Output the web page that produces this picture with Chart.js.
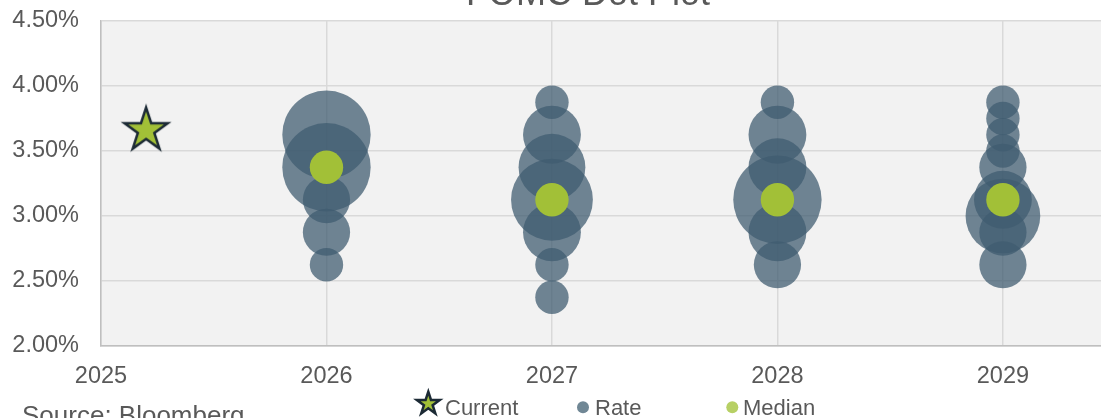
<!DOCTYPE html>
<html>
<head>
<meta charset="utf-8">
<script src="https://cdn.jsdelivr.net/npm/chart.js@4.4.1/dist/chart.umd.min.js"></script>
<style>
  html, body { margin: 0; padding: 0; background: #fff; overflow: hidden; }
  #wrap { position: relative; width: 1101px; height: 418px; }
</style>
</head>
<body>
<div id="wrap"><canvas id="dotChart" width="1101" height="418"></canvas></div>
<script>
// rate level of each dot group and how many participants sit at that level
const years = [2026, 2027, 2028, 2029];
const rates2026 = [3.625, 3.375, 3.125, 2.875, 2.625];
const counts2026 = [7, 7, 2, 2, 1];
const rates2027 = [3.875, 3.625, 3.375, 3.125, 2.875, 2.625, 2.375];
const counts2027 = [1, 3, 4, 6, 3, 1, 1];
const rates2028 = [3.875, 3.625, 3.375, 3.125, 2.875, 2.625];
const counts2028 = [1, 3, 3, 7, 3, 2];
const rates2029 = [3.875, 3.75, 3.625, 3.5, 3.375, 3.125, 3.0, 2.875, 2.625];
const counts2029 = [1, 1, 1, 1, 2, 3, 5, 2, 2];
const medians = [3.375, 3.125, 3.125, 3.125];
const currentDate = 2025.2;
const currentRate = 3.66;
const legendLabels = ['Current', 'Rate', 'Median'];

const FONT = '"Liberation Sans", Arial, sans-serif';
const GREY_TEXT = '#595959';
const RATE_COLOR = 'rgba(64, 92, 112, 0.74)';
const MEDIAN_COLOR = '#A2C037';

// one dot = radius 16.7px, area grows with the count
function dotRadius(n) {
    return 16.7 * Math.sqrt(n);
}

function starPath(ctx, cx, cy, R, r) {
    ctx.beginPath();
    for (let i = 0; i < 10; i++) {
        const rad = i % 2 === 0 ? R : r;
        const a = -Math.PI / 2 + i * Math.PI / 5;
        const x = cx + rad * Math.cos(a);
        const y = cy + rad * Math.sin(a);
        if (i === 0) ctx.moveTo(x, y); else ctx.lineTo(x, y);
    }
    ctx.closePath();
}

function makeStar(R) {
    const c = document.createElement('canvas');
    const size = Math.ceil(2 * R + 8);
    c.width = size;
    c.height = size;
    const ctx = c.getContext('2d');
    starPath(ctx, size / 2, size / 2, R, R * 0.382);
    ctx.fillStyle = MEDIAN_COLOR;
    ctx.fill();
    ctx.lineWidth = 2.5;
    ctx.strokeStyle = '#1C2A35';
    ctx.stroke();
    return c;
}

const rateGroups = [
    [rates2026, counts2026],
    [rates2027, counts2027],
    [rates2028, counts2028],
    [rates2029, counts2029]
];
const ratePoints = [];
rateGroups.forEach(([rates, counts], i) => {
    rates.forEach((v, j) => ratePoints.push({ x: years[i], y: v, r: dotRadius(counts[j]) }));
});
const medianPoints = medians.map((v, i) => ({ x: years[i], y: v, r: dotRadius(1) }));

const plotBg = {
    id: 'plotBg',
    beforeDraw(chart) {
        const { ctx, chartArea: a } = chart;
        ctx.save();
        ctx.fillStyle = '#F2F2F2';
        ctx.fillRect(a.left, a.top, a.right - a.left, a.bottom - a.top);
        ctx.restore();
    }
};

const overlay = {
    id: 'overlay',
    afterDraw(chart) {
        const ctx = chart.ctx;
        ctx.save();
        ctx.fillStyle = GREY_TEXT;
        ctx.textBaseline = 'alphabetic';

        // title, top half is cut off in the original
        ctx.font = '36px ' + FONT;
        ctx.textAlign = 'center';
        ctx.fillText('FOMC Dot Plot', 588, 5);

        ctx.font = '26px ' + FONT;
        ctx.textAlign = 'left';
        ctx.fillText('Source: Bloomberg', 22, 424);

        // legend
        ctx.font = '22px ' + FONT;
        starPath(ctx, 428.3, 403.7, 12, 12 * 0.382);
        ctx.fillStyle = MEDIAN_COLOR;
        ctx.fill();
        ctx.lineWidth = 2.5;
        ctx.strokeStyle = '#1C2A35';
        ctx.stroke();
        ctx.fillStyle = GREY_TEXT;
        ctx.fillText(legendLabels[0], 445, 414.5);

        ctx.beginPath();
        ctx.arc(583, 407.3, 6, 0, Math.PI * 2);
        ctx.fillStyle = 'rgb(112, 135, 149)';
        ctx.fill();
        ctx.fillStyle = GREY_TEXT;
        ctx.fillText(legendLabels[1], 595, 414.5);

        ctx.beginPath();
        ctx.arc(732.3, 407.3, 6, 0, Math.PI * 2);
        ctx.fillStyle = '#B7D065';
        ctx.fill();
        ctx.fillStyle = GREY_TEXT;
        ctx.fillText(legendLabels[2], 743, 414.5);
        ctx.restore();
    }
};

new Chart(document.getElementById('dotChart'), {
    type: 'bubble',
    data: {
        datasets: [
            {
                label: 'Current',
                type: 'scatter',
                data: [{ x: currentDate, y: currentRate }],
                pointStyle: makeStar(22.7),
                pointRadius: 20,
                order: 0
            },
            {
                label: 'Median',
                data: medianPoints,
                backgroundColor: MEDIAN_COLOR,
                borderWidth: 0,
                order: 1
            },
            {
                label: 'Rate',
                data: ratePoints,
                backgroundColor: RATE_COLOR,
                borderWidth: 0,
                order: 2
            }
        ]
    },
    options: {
        responsive: false,
        animation: false,
        events: [],
        layout: { autoPadding: false, padding: { top: 21, left: 0, right: 0, bottom: 0 } },
        plugins: {
            legend: { display: false },
            title: { display: false },
            tooltip: { enabled: false }
        },
        scales: {
            x: {
                type: 'linear',
                min: 2025,
                max: 2029.435,
                afterFit(scale) {
                    scale.height = 72;
                    scale.paddingLeft = 0;
                    scale.paddingRight = 0;
                },
                grid: { color: '#D9D9D9', lineWidth: 1.5, drawTicks: false },
                border: { color: '#BFBFBF', width: 1.5 },
                ticks: {
                    stepSize: 1,
                    includeBounds: false,
                    padding: 16,
                    color: GREY_TEXT,
                    font: { family: FONT, size: 23.5 },
                    callback: (v) => String(v)
                }
            },
            y: {
                min: 2,
                max: 4.5,
                afterFit(scale) {
                    scale.width = 101;
                    scale.paddingTop = 0;
                    scale.paddingBottom = 0;
                },
                grid: { color: '#D9D9D9', lineWidth: 1.5, drawTicks: false },
                border: { color: '#BFBFBF', width: 1.5 },
                ticks: {
                    stepSize: 0.5,
                    padding: 22,
                    color: GREY_TEXT,
                    font: { family: FONT, size: 23.5 },
                    callback: (v) => v.toFixed(2) + '%'
                }
            }
        }
    },
    plugins: [plotBg, overlay]
});
</script>
</body>
</html>
